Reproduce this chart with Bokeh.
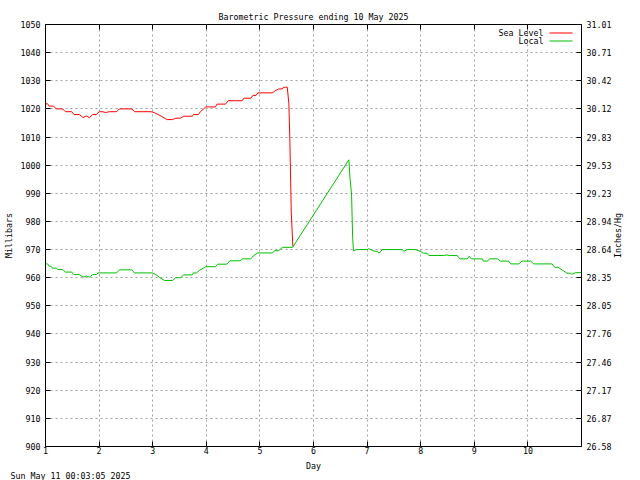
import math
from bokeh.plotting import figure
from bokeh.models import LinearAxis, FixedTicker, Label, BoxAnnotation, Range1d, Title
from bokeh.embed import file_html
from bokeh.resources import INLINE

# ---------------- data ----------------
sea_day = [1.00, 1.04, 1.07, 1.15, 1.20, 1.32, 1.37, 1.49, 1.53, 1.63, 1.67, 1.70, 1.76, 1.82,
           1.88, 1.95, 1.98, 2.01, 2.07, 2.12, 2.19, 2.32, 2.36, 2.38, 2.61, 2.66, 2.97, 3.03,
           3.10, 3.16, 3.22, 3.27, 3.37, 3.43, 3.52, 3.58, 3.74, 3.76, 3.85, 3.89, 3.95, 3.99,
           4.17, 4.20, 4.36, 4.41, 4.67, 4.70, 4.83, 4.87, 4.93, 4.96, 5.23, 5.29, 5.35, 5.42,
           5.44, 5.51, 5.54, 5.56, 5.585, 5.615]
sea_mb = [1021.8, 1021.8, 1021.0, 1021.0, 1020.0, 1020.0, 1019.0, 1019.0, 1018.0, 1018.0,
          1017.4, 1016.9, 1017.5, 1016.9, 1018.0, 1018.0, 1018.7, 1019.0, 1019.0, 1018.7,
          1019.0, 1019.0, 1019.6, 1020.0, 1020.0, 1019.0, 1019.0, 1018.7, 1018.0, 1017.4,
          1016.7, 1016.2, 1016.2, 1016.7, 1016.7, 1017.4, 1017.4, 1018.0, 1018.0, 1019.0,
          1020.0, 1020.7, 1020.7, 1021.7, 1021.7, 1022.9, 1022.9, 1023.8, 1023.8, 1024.8,
          1024.8, 1025.7, 1025.7, 1026.5, 1027.1, 1027.1, 1027.7, 1027.7, 1022.0, 1008.2,
          983.3, 971.1]

local_day = [1.00, 1.04, 1.07, 1.10, 1.13, 1.20, 1.23, 1.32, 1.37, 1.49, 1.53, 1.63, 1.67,
             1.70, 1.76, 1.82, 1.88, 1.95, 1.98, 2.32, 2.36, 2.38, 2.61, 2.66, 2.99, 3.06,
             3.12, 3.22, 3.37, 3.43, 3.52, 3.58, 3.74, 3.76, 3.82, 3.88, 3.99, 4.17, 4.21,
             4.38, 4.44, 4.64, 4.67, 4.83, 4.88, 4.96, 5.23, 5.28, 5.35, 5.42, 5.61, 6.66,
             6.68, 6.71, 6.73, 6.745, 6.78, 6.80, 7.00, 7.03, 7.07, 7.13, 7.19, 7.22, 7.26,
             7.28, 7.65, 7.69, 7.75, 7.90, 8.00, 8.05, 8.12, 8.15, 8.43, 8.49, 8.53, 8.68,
             8.73, 8.87, 8.90, 8.95, 9.15, 9.17, 9.24, 9.29, 9.43, 9.49, 9.64, 9.68, 9.83,
             9.89, 10.05, 10.11, 10.45, 10.50, 10.56, 10.66, 10.73, 10.79, 10.82, 10.89, 11.00]
local_mb = [964.9, 964.9, 964.1, 964.1, 963.4, 963.4, 962.9, 962.9, 962.0, 962.0, 961.1, 961.1,
            960.6, 960.2, 960.6, 960.2, 961.1, 961.1, 961.7, 961.7, 962.3, 962.8, 962.8, 961.7,
            961.7, 961.1, 960.2, 959.0, 959.0, 960.0, 960.0, 961.0, 961.0, 961.7, 961.7, 962.7,
            963.9, 963.9, 964.8, 964.8, 966.0, 966.0, 966.7, 966.7, 967.8, 968.8, 968.8, 969.6,
            969.6, 970.8, 970.8, 1001.9, 995.5, 989.8, 974.4, 969.7, 969.7, 970.0, 970.0, 970.3,
            970.0, 969.4, 969.4, 968.7, 969.4, 970.0, 970.0, 969.4, 970.0, 970.0, 969.3, 968.7,
            968.7, 967.9, 967.9, 968.1, 967.9, 967.9, 966.7, 966.7, 967.6, 966.7, 966.7, 965.9,
            965.9, 966.7, 966.7, 965.9, 965.9, 964.9, 964.9, 965.9, 965.9, 964.9, 964.9, 963.7,
            963.7, 962.5, 961.6, 961.6, 961.2, 961.8, 961.8]

day_ticks = [1, 2, 3, 4, 5, 6, 7, 8, 9, 10]
mb_ticks = [900, 910, 920, 930, 940, 950, 960, 970, 980, 990, 1000, 1010, 1020, 1030, 1040, 1050]
inch_labels = ["26.58", "26.87", "27.17", "27.46", "27.76", "28.05", "28.35", "28.64",
               "28.94", "29.23", "29.53", "29.83", "30.12", "30.42", "30.71", "31.01"]

title_text = "Barometric Pressure ending 10 May 2025"
stamp_text = "Sun May 11 00:03:05 2025"
y2_title = "Inches/Hg"

# ---------------- style ----------------
FONT = "DejaVu Sans Mono"
FS = "8.3px"
RED = "#ff0000"
GREEN = "#00c000"
GRID = "#a0a0a0"
Y2_TITLE_START = 967.0   # where the bottom-to-top right-hand title starts

p = figure(width=640, height=480, output_backend="svg", toolbar_location=None,
           x_range=Range1d(1, 11), y_range=Range1d(900, 1050),
           min_border_left=45, min_border_right=59, min_border_top=24, min_border_bottom=34)
p.background_fill_color = "white"
p.border_fill_color = "white"
p.outline_line_color = "black"
p.outline_line_width = 1
p.outline_line_alpha = 1

p.title.text = title_text
p.title.align = "center"
p.title.text_font = FONT
p.title.text_font_size = FS
p.title.text_font_style = "normal"
p.title.text_color = "black"
p.title.standoff = 5

xt = FixedTicker(ticks=day_ticks)
yt = FixedTicker(ticks=mb_ticks)


def style_axis(ax):
    ax.axis_line_color = None
    ax.major_tick_in = 5
    ax.major_tick_out = 0
    ax.minor_tick_line_color = None
    ax.major_tick_line_color = "black"
    ax.major_label_text_font = FONT
    ax.major_label_text_font_size = FS
    ax.major_label_text_color = "black"
    ax.major_label_standoff = 5
    ax.axis_label_text_font = FONT
    ax.axis_label_text_font_size = FS
    ax.axis_label_text_font_style = "normal"
    ax.axis_label_text_color = "black"


xa = p.xaxis[0]
xa.ticker = xt
style_axis(xa)
xa.major_label_standoff = 0
xa.axis_label = "Day"
xa.axis_label_standoff = 4

ya = p.yaxis[0]
ya.ticker = yt
style_axis(ya)
ya.axis_label = "Millibars"
ya.axis_label_standoff = 4

ra = LinearAxis(ticker=yt,
                major_label_overrides={v: s for v, s in zip(mb_ticks, inch_labels)})
style_axis(ra)
p.add_layout(ra, "right")

# right-hand title, reading bottom-to-top like the reference
ra2 = LinearAxis(ticker=FixedTicker(ticks=[Y2_TITLE_START]),
                 major_label_overrides={Y2_TITLE_START: y2_title})
style_axis(ra2)
ra2.major_tick_line_color = None
ra2.major_tick_in = 0
ra2.major_label_standoff = 4
ra2.major_label_orientation = math.pi / 2
p.add_layout(ra2, "right")

ta = LinearAxis(ticker=xt, major_label_overrides={t: "" for t in day_ticks})
style_axis(ta)
ta.major_label_standoff = 5
p.add_layout(ta, "above")

stamp = Title(text=stamp_text, align="left", offset=-35, standoff=-9,
              text_font=FONT, text_font_size=FS, text_font_style="normal",
              text_color="black")
p.add_layout(stamp, "below")

p.xgrid[0].ticker = xt
p.ygrid[0].ticker = yt
for g in (p.xgrid[0], p.ygrid[0]):
    g.grid_line_color = GRID
    g.grid_line_dash = "2 3"
    g.grid_line_width = 1

p.line(sea_day, sea_mb, line_color=RED, line_width=1)
p.line(local_day, local_mb, line_color=GREEN, line_width=1)


def lab(x, y, text, align="center", baseline="middle"):
    p.add_layout(Label(x=x, y=y, x_units="screen", y_units="screen", text=text,
                       text_align=align, text_baseline=baseline,
                       text_font=FONT, text_font_size=FS, text_color="black"))


# legend (text then sample line, as in the reference)
lab(498, 414, "Sea Level", align="right")
lab(498, 406, "Local", align="right")
p.add_layout(BoxAnnotation(left=504, right=527, top=414, bottom=413,
                           left_units="screen", right_units="screen",
                           top_units="screen", bottom_units="screen",
                           fill_color=RED, fill_alpha=1, line_color=None))
p.add_layout(BoxAnnotation(left=504, right=527, top=406, bottom=405,
                           left_units="screen", right_units="screen",
                           top_units="screen", bottom_units="screen",
                           fill_color=GREEN, fill_alpha=1, line_color=None))

open("out.html", "w").write(file_html(p, INLINE))
